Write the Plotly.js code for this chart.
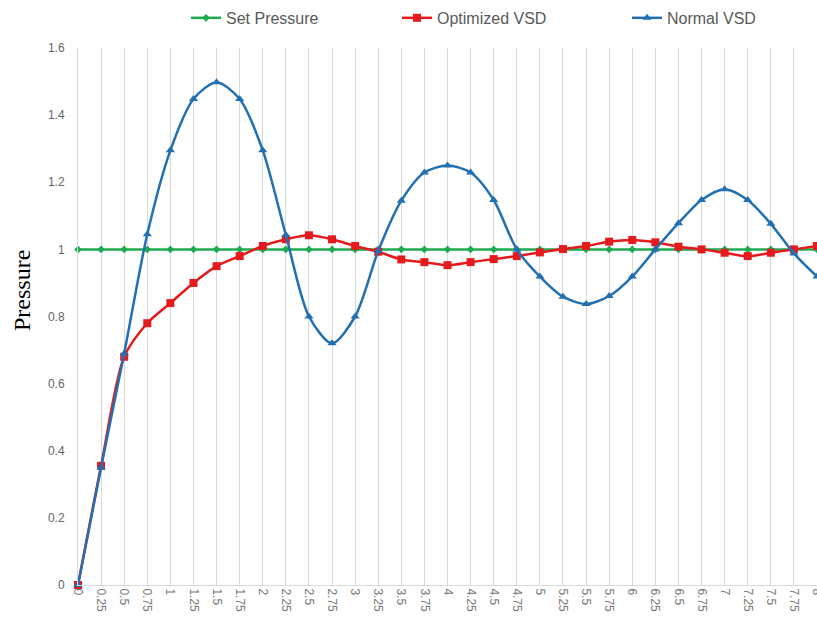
<!DOCTYPE html>
<html>
<head>
<meta charset="utf-8">
<script src="https://cdn.plot.ly/plotly-3.0.1.min.js"></script>
<style>
  html, body { margin: 0; padding: 0; background: #ffffff; }
  #chart { width: 817px; height: 623px; }
</style>
</head>
<body>
<div id="chart"></div>
<script>
// Time steps along the category axis
const timeSteps = ['0', '0.25', '0.5', '0.75', '1', '1.25', '1.5', '1.75', '2', '2.25', '2.5', '2.75',
  '3', '3.25', '3.5', '3.75', '4', '4.25', '4.5', '4.75', '5', '5.25', '5.5', '5.75',
  '6', '6.25', '6.5', '6.75', '7', '7.25', '7.5', '7.75', '8'];

// Target pressure
const setPressure = [1, 1, 1, 1, 1, 1, 1, 1, 1, 1, 1, 1, 1, 1, 1, 1, 1,
  1, 1, 1, 1, 1, 1, 1, 1, 1, 1, 1, 1, 1, 1, 1, 1];

// Pressure response with the optimized drive
const optimizedVSD = [0, 0.355, 0.68, 0.78, 0.84, 0.90, 0.95, 0.98, 1.01, 1.03, 1.042, 1.03,
  1.01, 0.993, 0.97, 0.962, 0.953, 0.962, 0.971, 0.98, 0.991, 1.001, 1.01, 1.023,
  1.028, 1.021, 1.008, 1.0, 0.99, 0.98, 0.99, 1.0, 1.01];

// Pressure response with the normal drive
const normalVSD = [0, 0.35, 0.69, 1.045, 1.295, 1.448, 1.498, 1.448, 1.295, 1.043, 0.80, 0.72,
  0.80, 0.995, 1.145, 1.229, 1.25, 1.229, 1.147, 1.0, 0.919, 0.859, 0.837, 0.861,
  0.919, 1.0, 1.078, 1.147, 1.179, 1.147, 1.076, 0.988, 0.919];

const yTickVals = [0, 0.2, 0.4, 0.6, 0.8, 1, 1.2, 1.4, 1.6];

const legendFont = { family: 'Liberation Sans Narrow, Liberation Sans, Arial, sans-serif', size: 16, color: '#595959' };

const traces = [
  {
    x: timeSteps, y: setPressure, name: 'Set Pressure', type: 'scatter', mode: 'lines+markers',
    line: { color: '#1faa4f', width: 2.5 },
    marker: { symbol: 'diamond', size: 6, color: '#1faa4f' },
    cliponaxis: false, legend: 'legend'
  },
  {
    x: timeSteps, y: optimizedVSD, name: 'Optimized VSD', type: 'scatter', mode: 'lines+markers',
    line: { color: '#e41a1c', width: 2.5, shape: 'spline', smoothing: 0.8 },
    marker: { symbol: 'square', size: 8, color: '#e41a1c' },
    cliponaxis: false, legend: 'legend2'
  },
  {
    x: timeSteps, y: normalVSD, name: 'Normal VSD', type: 'scatter', mode: 'lines+markers',
    line: { color: '#2270b2', width: 2.5, shape: 'spline', smoothing: 0.8 },
    marker: { symbol: 'triangle-up', size: 8, color: '#2270b2' },
    cliponaxis: false, legend: 'legend3'
  }
];

function legendAt(xPaper) {
  return {
    x: xPaper, y: 1.056, xanchor: 'left', yanchor: 'middle', orientation: 'h',
    bgcolor: 'rgba(0,0,0,0)', borderwidth: 0, font: legendFont
  };
}

const layout = {
  width: 817, height: 623,
  margin: { l: 78, r: 0, t: 48, b: 38, pad: 0 },
  paper_bgcolor: '#ffffff', plot_bgcolor: '#ffffff',
  showlegend: true,
  legend: legendAt((186 - 78) / 739),
  legend2: legendAt((397 - 78) / 739),
  legend3: legendAt((627 - 78) / 739),
  xaxis: {
    type: 'category', range: [0, 32], automargin: false,
    showgrid: true, gridcolor: '#d9d9d9', gridwidth: 1,
    showline: true, linecolor: '#d9d9d9', linewidth: 1,
    zeroline: false, ticks: '', tickangle: 90,
    tickfont: { family: 'Liberation Sans, Arial, sans-serif', size: 12, color: '#777777' }
  },
  yaxis: {
    range: [0, 1.6], tickvals: yTickVals, automargin: false,
    showgrid: false, zeroline: false, showline: true, linecolor: '#d9d9d9', linewidth: 1,
    ticks: '', ticklabelstandoff: 10,
    tickfont: { family: 'Liberation Sans, Arial, sans-serif', size: 12, color: '#666666' }
  },
  annotations: [{
    text: 'Pressure', textangle: -90, showarrow: false,
    xref: 'paper', yref: 'paper', x: (22 - 78) / 739, y: (585 - 291) / 537,
    xanchor: 'center', yanchor: 'middle',
    font: { family: 'Liberation Serif, Times New Roman, serif', size: 24, color: '#000000' }
  }]
};

Plotly.newPlot('chart', traces, layout, { displayModeBar: false, responsive: false });
</script>
</body>
</html>
